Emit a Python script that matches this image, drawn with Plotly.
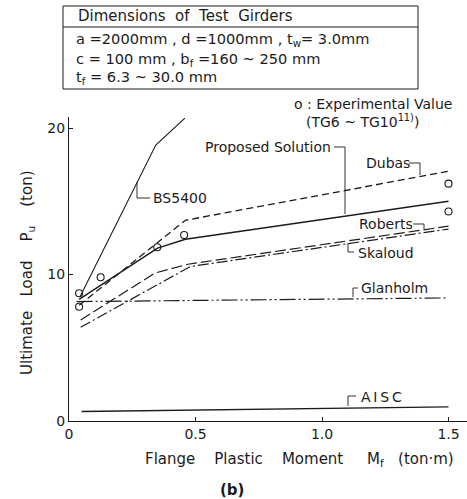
import plotly.graph_objects as go

# ---- data ----
bs5400_x = [0.043, 0.343, 0.458]
bs5400_y = [8.46, 18.84, 20.68]

proposed_x = [0.04, 0.35, 0.46, 1.50]
proposed_y = [8.30, 11.80, 12.40, 15.00]

dubas_x = [0.04, 0.46, 1.50]
dubas_y = [7.90, 13.70, 17.05]

roberts_x = [0.046, 0.34, 0.47, 1.50]
roberts_y = [6.90, 10.10, 10.70, 13.30]

skaloud_x = [0.046, 0.48, 1.50]
skaloud_y = [6.40, 10.55, 13.10]

glanholm_x = [0.03, 1.50]
glanholm_y = [8.15, 8.40]

aisc_x = [0.05, 1.50]
aisc_y = [0.65, 0.97]

exp_x = [0.04, 0.04, 0.125, 0.349, 0.455, 1.50, 1.50]
exp_y = [8.72, 7.80, 9.81, 11.86, 12.70, 16.20, 14.30]

x_ticks = [0, 0.5, 1.0, 1.5]
x_ticklabels = ["0", "0.5", "1.0", "1.5"]
y_ticks = [0, 10, 20]
y_ticklabels = ["0", "10", "20"]

# ---- layout geometry ----
W, H = 467, 499
ML, MR, MT, MB = 69, 0, 117, 78
PW, PH = W - ML - MR, H - MT - MB
XMAX = PW / 253.0
YMAX = PH / 14.65

INK = "#1c1c1c"
FONT = "DejaVu Sans"


def px(x):
    return (x - ML) / PW


def py(y):
    return (H - MB - y) / PH


fig = go.Figure()


def line(x, y, dash, width=1.2):
    fig.add_trace(go.Scatter(x=x, y=y, mode="lines",
                             line=dict(color=INK, width=width, dash=dash),
                             showlegend=False, hoverinfo="skip"))


line(bs5400_x, bs5400_y, "solid", 1.1)
line(proposed_x, proposed_y, "solid", 1.5)
line(dubas_x, dubas_y, "7px,4px", 1.3)
line(roberts_x, roberts_y, "11px,4px", 1.2)
line(skaloud_x, skaloud_y, "11px,3px,2px,3px", 1.2)
line(glanholm_x, glanholm_y, "16px,3px,2px,3px,2px,3px", 1.2)
line(aisc_x, aisc_y, "solid", 1.3)

fig.add_trace(go.Scatter(x=exp_x, y=exp_y, mode="markers",
                         marker=dict(symbol="circle-open", size=7,
                                     color=INK, line=dict(width=1.1)),
                         showlegend=False, hoverinfo="skip", cliponaxis=False))

shapes = []
annotations = []


def seg(pts, width=0.9, dash="solid"):
    for (x0, y0), (x1, y1) in zip(pts[:-1], pts[1:]):
        shapes.append(dict(type="line", xref="paper", yref="paper",
                           x0=px(x0), y0=py(y0), x1=px(x1), y1=py(y1),
                           line=dict(color=INK, width=width, dash=dash)))


def text(x, y, s, size=14, anchor="left"):
    annotations.append(dict(xref="paper", yref="paper", x=px(x), y=py(y),
                            text=s, showarrow=False, xanchor=anchor,
                            yanchor="middle",
                            font=dict(family=FONT, size=size, color=INK)))


# dimension box
BX0, BX1 = 63, 418
seg([(BX0, 6), (BX1, 6)], 1.0)
seg([(BX0, 27), (BX1, 27)], 1.0)
seg([(BX0, 89), (BX1, 89)], 1.0)
seg([(BX0, 6), (BX0, 89)], 1.0)
seg([(BX1, 6), (BX1, 89)], 1.0)
text(76, 16, "Dimensions  of  Test  Girders", 15)
text(74, 40, "a =2000mm , d =1000mm , t<sub>w</sub>= 3.0mm", 14.6)
text(74, 59.5, "c = 100 mm , b<sub>f</sub> =160 ~ 250 mm", 14.6)
text(74, 78, "t<sub>f</sub> = 6.3 ~ 30.0 mm", 14.6)

text(292, 104, "o : Experimental Value", 14)
text(304, 121, "(TG6 ~ TG10<sup>11)</sup>)", 14)

# curve labels with leaders
text(151, 198, "BS5400", 14)
seg([(137, 182), (137, 198), (150, 198)])
text(333, 147, "Proposed Solution", 14, "right")
seg([(334, 147), (345, 147), (345, 214)])
text(364, 163, "Dubas", 14)
seg([(409, 163), (420, 163), (420, 175)])
text(357, 224, "Roberts", 14)
seg([(413, 224), (424, 224), (424, 229)])
text(356, 253, "Skaloud", 14)
seg([(348, 243), (348, 252), (354, 252)])
text(359, 288, "Glanholm", 14)
seg([(353, 297), (353, 288), (358, 288)])
text(359, 397, "A&#8201;I&#8201;S&#8201;C", 14)
seg([(348, 406), (348, 396), (356, 396)])

# axis titles
annotations.append(dict(xref="paper", yref="paper", x=px(27), y=py(273),
                        text="Ultimate   Load    P<sub>u</sub>    (ton)",
                        textangle=-90, showarrow=False, xanchor="center",
                        yanchor="middle",
                        font=dict(family=FONT, size=15, color=INK)))
text(299, 459, "Flange    Plastic    Moment     M<sub>f</sub>   (ton·m)", 15, "center")
annotations.append(dict(xref="paper", yref="paper", x=px(232), y=py(490),
                        text="<b>(b)</b>", showarrow=False, xanchor="center",
                        yanchor="middle",
                        font=dict(family=FONT, size=15, color=INK)))

fig.update_layout(
    width=W, height=H,
    margin=dict(l=ML, r=MR, t=MT, b=MB),
    paper_bgcolor="white", plot_bgcolor="white",
    shapes=shapes, annotations=annotations,
    font=dict(family=FONT, color=INK),
)
fig.update_xaxes(range=[0, XMAX], tickvals=x_ticks, ticktext=x_ticklabels,
                 showgrid=False, zeroline=False, showline=True,
                 linecolor=INK, linewidth=1.2, ticks="inside", ticklen=4,
                 tickcolor=INK, tickfont=dict(family=FONT, size=14, color=INK))
fig.update_yaxes(range=[0, YMAX], tickvals=y_ticks, ticktext=y_ticklabels,
                 showgrid=False, zeroline=False, showline=True,
                 linecolor=INK, linewidth=1.2, ticks="inside", ticklen=4,
                 tickcolor=INK, tickfont=dict(family=FONT, size=14, color=INK))

fig.write_html("out.html")
